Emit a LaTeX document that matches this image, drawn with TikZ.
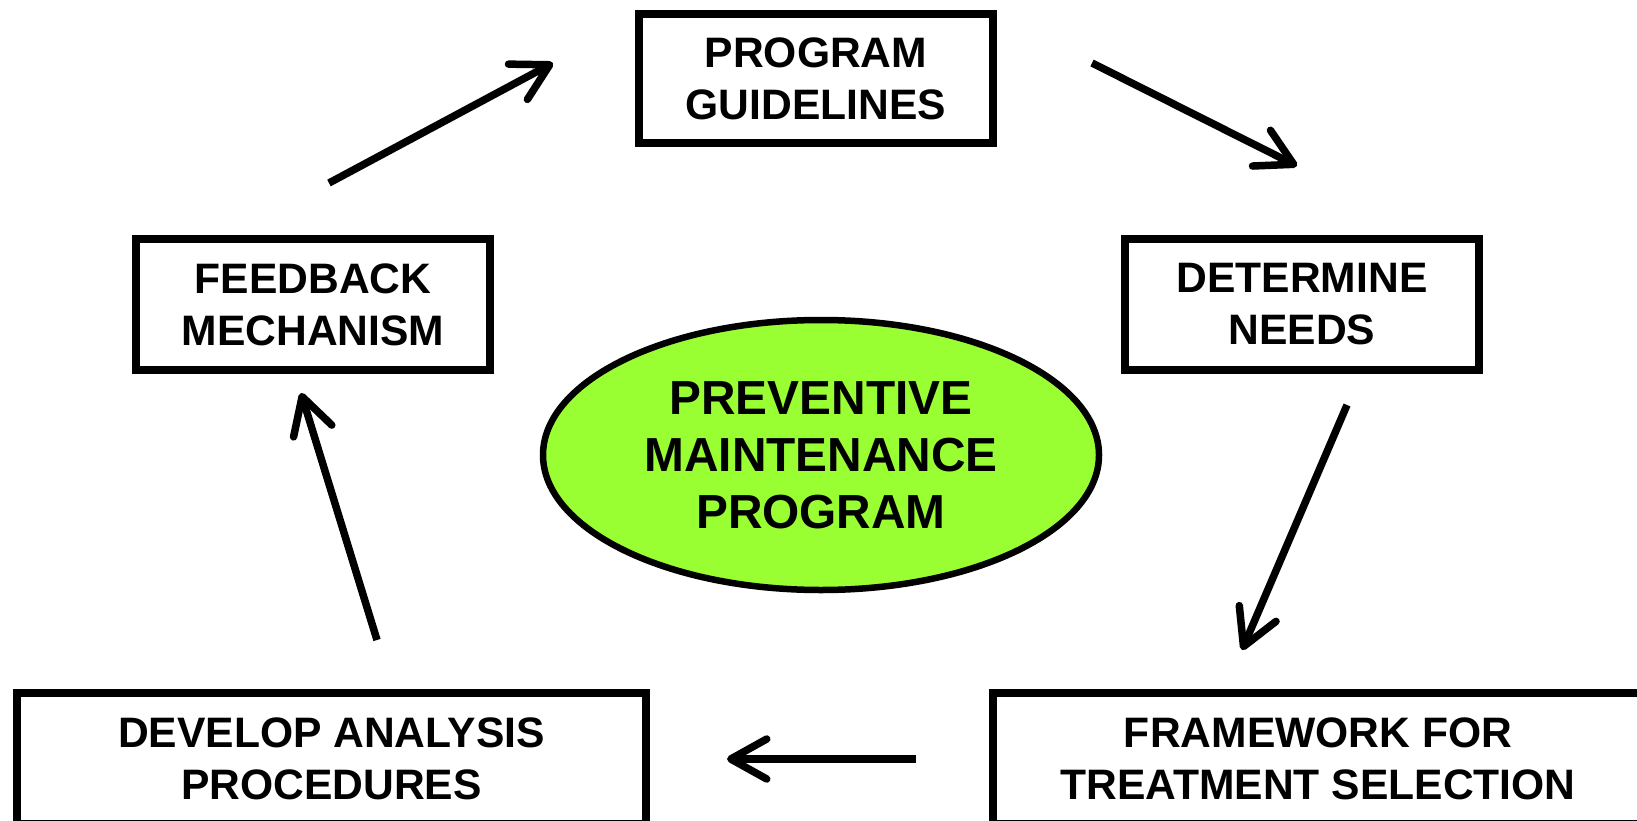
\documentclass[tikz,border=0pt]{standalone}
\usepackage{fontspec}
\setmainfont{Liberation Sans}
\usetikzlibrary{arrows.meta,shapes.geometric}
\definecolor{pmgreen}{RGB}{153,255,51}
\begin{document}
\begin{tikzpicture}[x=1pt,y=-1pt,
  stepbox/.style={draw, rectangle, line width=8pt, inner sep=0pt, align=center,
    font=\bfseries\fontsize{42.6}{52}\selectfont},
  hub/.style={draw, ellipse, line width=6.5pt, fill=pmgreen, inner sep=0pt,
    minimum width=556pt, minimum height=270pt, align=center,
    font=\bfseries\fontsize{47.8}{57}\selectfont},
  flow/.style={line width=7.5pt,
    -{Straight Barb[length=36pt,width=40pt,line cap=round,line join=round]}}]
\useasboundingbox (0,0) rectangle (1637,821);
\clip (0,0) rectangle (1637,821);

% central program
\node[hub] (pm) at (821,455) {PREVENTIVE\\MAINTENANCE\\PROGRAM};

% cycle steps
\node[stepbox, minimum width=354pt, minimum height=129pt] (guide) at (816,78.5) {PROGRAM\\GUIDELINES};
\node[stepbox, minimum width=354pt, minimum height=131pt] (needs) at (1302,304.5) {DETERMINE\\NEEDS};
\node[stepbox, minimum width=650pt, minimum height=131pt] (frame) at (1318,758.5) {FRAMEWORK FOR\\TREATMENT SELECTION};
\node[stepbox, minimum width=629pt, minimum height=131pt] (anal) at (331.5,758.5) {DEVELOP ANALYSIS\\PROCEDURES};
\node[stepbox, minimum width=354pt, minimum height=131pt] (feed) at (313,304.5) {FEEDBACK\\MECHANISM};

% arrow ends between the steps
\coordinate (guideIn)  at (553,63);
\coordinate (guideOut) at (1092,63);
\coordinate (needsIn)  at (1297,166);
\coordinate (needsOut) at (1347,405);
\coordinate (frameIn)  at (1242,650);
\coordinate (frameOut) at (916,759);
\coordinate (analIn)   at (727,759);
\coordinate (analOut)  at (377,640);
\coordinate (feedIn)   at (301,393);
\coordinate (feedOut)  at (329,183);

\draw[flow] (feedOut)  -- (guideIn);
\draw[flow] (guideOut) -- (needsIn);
\draw[flow] (needsOut) -- (frameIn);
\draw[flow] (frameOut) -- (analIn);
\draw[flow] (analOut)  -- (feedIn);
\end{tikzpicture}
\end{document}
